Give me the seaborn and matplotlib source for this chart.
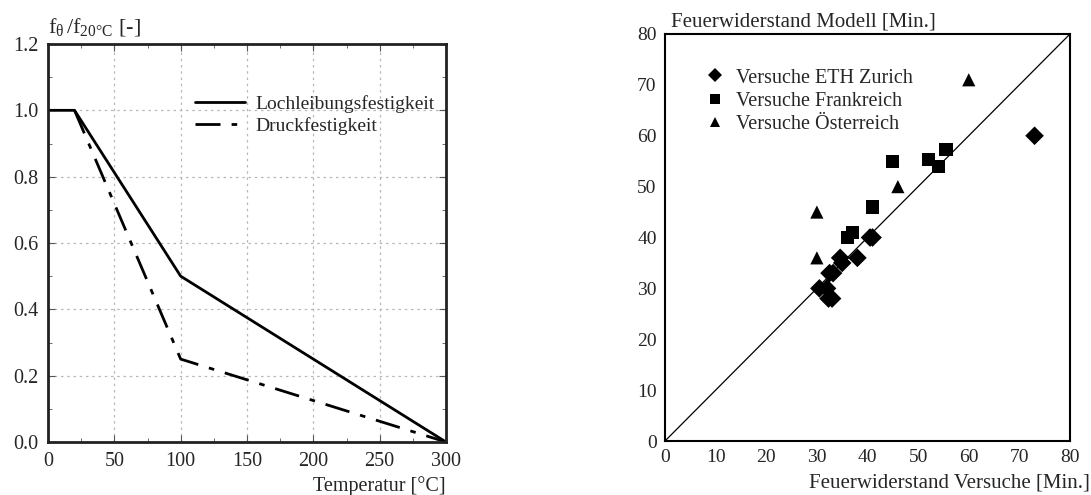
import matplotlib
matplotlib.use("Agg")
import matplotlib.pyplot as plt
from matplotlib.ticker import MultipleLocator, FormatStrFormatter
import seaborn as sns
import pandas as pd

# left panel: strength reduction vs temperature
temp_lochleibung = [0, 20, 100, 300]
f_lochleibung = [1.0, 1.0, 0.5, 0.0]
temp_druck = [20, 100, 300]
f_druck = [1.0, 0.25, 0.0]

# right panel: fire resistance model vs test
eth_x = [73, 41, 40.5, 38, 34.6, 35, 32.5, 33.2, 30.5, 32, 32.3, 33]
eth_y = [60, 40, 40, 36, 36, 35, 33, 33, 30, 30, 28, 28]
fr_x = [36, 37, 41, 45, 52, 54, 55.5]
fr_y = [40, 41, 46, 55, 55.3, 54, 57.3]
at_x = [60, 46, 30, 30]
at_y = [71, 50, 45, 36]

sns.set_style("white")
plt.rcParams['font.family'] = ['Liberation Serif', 'DejaVu Serif']
plt.rcParams['mathtext.fontset'] = 'stix'

fig = plt.figure(figsize=(10.91, 4.95), dpi=100)

# ---- left
ax1 = fig.add_axes([48/1091, 53/495, 398/1091, 398/495])
df_l = pd.DataFrame({'T': temp_lochleibung, 'f': f_lochleibung})
df_d = pd.DataFrame({'T': temp_druck, 'f': f_druck})
sns.lineplot(data=df_l, x='T', y='f', color='black', lw=2, ax=ax1,
             label='Lochleibungsfestigkeit')
sns.lineplot(data=df_d, x='T', y='f', color='black', lw=2, ax=ax1,
             label='Druckfestigkeit')
ax1.lines[1].set_dashes([9, 4, 2, 4])
ax1.set_xlim(0, 300)
ax1.set_ylim(0, 1.2)
ax1.xaxis.set_major_locator(MultipleLocator(50))
ax1.xaxis.set_minor_locator(MultipleLocator(25))
ax1.yaxis.set_major_locator(MultipleLocator(0.2))
ax1.yaxis.set_minor_locator(MultipleLocator(0.1))
ax1.yaxis.set_major_formatter(FormatStrFormatter('%.1f'))
ax1.grid(True, which='major', color='#b8b8b8', ls=(0, (2, 3)), lw=0.9)
ax1.tick_params(which='both', direction='in', top=True, right=True, bottom=True, left=True,
                labelsize=14.5, color='#555555')
ax1.tick_params(which='major', length=5, pad=7)
ax1.tick_params(which='minor', length=3)
for s in ax1.spines.values():
    s.set_color('#222222')
    s.set_linewidth(2)
ax1.set_xlabel('')
ax1.set_ylabel('')
ax1.text(1.0, -0.085, 'Temperatur [°C]', transform=ax1.transAxes, ha='right', va='top',
         fontsize=14.5)
ax1.text(0.0, 1.015, r'$\mathregular{f_{\theta}\,/f_{20°C}}$ [-]', transform=ax1.transAxes,
         ha='left', va='bottom', fontsize=16)
ax1.legend(loc='upper left', bbox_to_anchor=(0.325, 0.915), frameon=False, fontsize=14,
           handlelength=2.6, handletextpad=0.5, labelspacing=0.2)

# ---- right
ax2 = fig.add_axes([665/1091, 54/495, 405/1091, 407/495])
df_s = pd.concat([
    pd.DataFrame({'x': eth_x, 'y': eth_y, 'Serie': 'Versuche ETH Zurich'}),
    pd.DataFrame({'x': fr_x, 'y': fr_y, 'Serie': 'Versuche Frankreich'}),
    pd.DataFrame({'x': at_x, 'y': at_y, 'Serie': 'Versuche Österreich'}),
])
ax2.plot([0, 80], [0, 80], color='black', lw=0.9)
sns.scatterplot(data=df_s, x='x', y='y', style='Serie', color='black',
                markers={'Versuche ETH Zurich': 'D', 'Versuche Frankreich': 's',
                         'Versuche Österreich': '^'},
                s=90, linewidth=0, ax=ax2)
ax2.set_xlim(0, 80)
ax2.set_ylim(0, 80)
ax2.xaxis.set_major_locator(MultipleLocator(10))
ax2.yaxis.set_major_locator(MultipleLocator(10))
ax2.tick_params(length=0, labelsize=14, pad=6)
for s in ax2.spines.values():
    s.set_color('black')
    s.set_linewidth(1.5)
ax2.set_xlabel('')
ax2.set_ylabel('')
ax2.text(1.05, -0.08, 'Feuerwiderstand Versuche [Min.]', transform=ax2.transAxes,
         ha='right', va='top', fontsize=15)
ax2.text(0.015, 1.005, 'Feuerwiderstand Modell [Min.]', transform=ax2.transAxes,
         ha='left', va='bottom', fontsize=15)
ax2.legend(loc='upper left', bbox_to_anchor=(0.03, 0.96), frameon=False, fontsize=14.5,
           handletextpad=0.0, labelspacing=0.2, markerscale=0.75)

fig.savefig('out.png', dpi=100)
